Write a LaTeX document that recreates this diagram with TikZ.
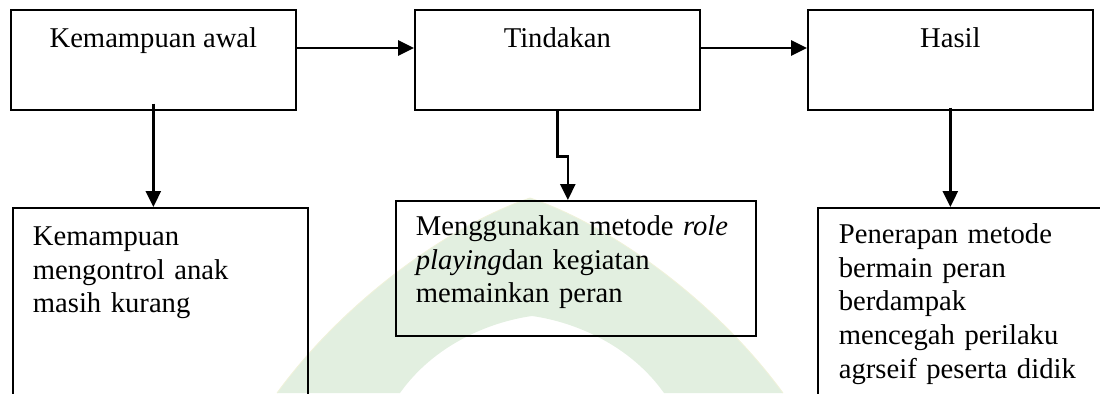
\documentclass[tikz,border=0pt]{standalone}
\usepackage{fontspec}
\setmainfont{Liberation Serif}
\usetikzlibrary{arrows.meta}
\definecolor{wmgreen}{RGB}{226,239,224}
\definecolor{wmyellow}{RGB}{240,242,218}

\begin{document}
\begin{tikzpicture}[x=0.02cm, y=-0.02cm,
    txt/.style={font=\fontsize{16.3}{19.1}\selectfont},
    topbox/.style={txt, draw, line width=1pt, inner sep=0pt, anchor=north west,
        minimum width=5.7cm, text height=0.76cm, text depth=1.24cm},
    lowbox/.style={txt, draw, line width=1pt, inner ysep=0pt, inner xsep=0.4cm,
        anchor=north west, align=left},
    conn/.style={line width=1.5pt, -{Triangle[length=0.32cm, width=0.3cm]}}]

    \useasboundingbox (0,0) rectangle (1100,393);
    \clip (0,0) rectangle (1100,393);

    % watermark
    \fill[wmgreen] (277,393) .. controls (345,300) and (450,225) .. (530,198)
        .. controls (610,225) and (715,300) .. (783,393) -- (664,393)
        .. controls (630,345) and (575,322) .. (532,316)
        .. controls (489,322) and (434,345) .. (400,393) -- cycle;
    \draw[wmyellow, line width=0.5pt] (277,393) .. controls (345,300) and (450,225) .. (530,198)
        .. controls (610,225) and (715,300) .. (783,393);

    \node (awal) [topbox] at (10,9) {Kemampuan awal};
    \node (tindakan) [topbox] at (414,9) {Tindakan};
    \node (hasil) [topbox] at (807,9) {Hasil};

    \node (awalket) [lowbox, text width=5.1cm, text height=0.76cm, text depth=3.6cm] at (12,207)
        {Kemampuan\\ mengontrol anak\\ masih kurang};
    \node (tindakanket) [lowbox, text width=6.4cm, text height=0.7cm, text depth=2cm] at (395,200)
        {Menggunakan metode \textit{role}\\ \textit{playing}dan kegiatan\\ memainkan peran};
    \node (hasilket) [lowbox, inner xsep=0.42cm, text width=5.8cm, text height=0.72cm, text depth=3.6cm] at (817,207)
        {Penerapan metode\\ bermain peran\\ berdampak\\ mencegah perilaku\\ agrseif peserta didik};

    \draw[conn] ([yshift=-0.78cm]awal.north east) -- ([yshift=-0.78cm]tindakan.north west);
    \draw[conn] ([yshift=-0.78cm]tindakan.north east) -- ([yshift=-0.78cm]hasil.north west);
    \draw[conn] ([yshift=0.14cm]awal.south) -- (awal.south |- awalket.north);
    \draw[conn] (tindakan.south) -- ++(0,46) -| ([xshift=-0.16cm]tindakanket.north);
    \draw[conn] ([yshift=0.06cm]hasil.south) -- (hasil.south |- hasilket.north);
\end{tikzpicture}
\end{document}
